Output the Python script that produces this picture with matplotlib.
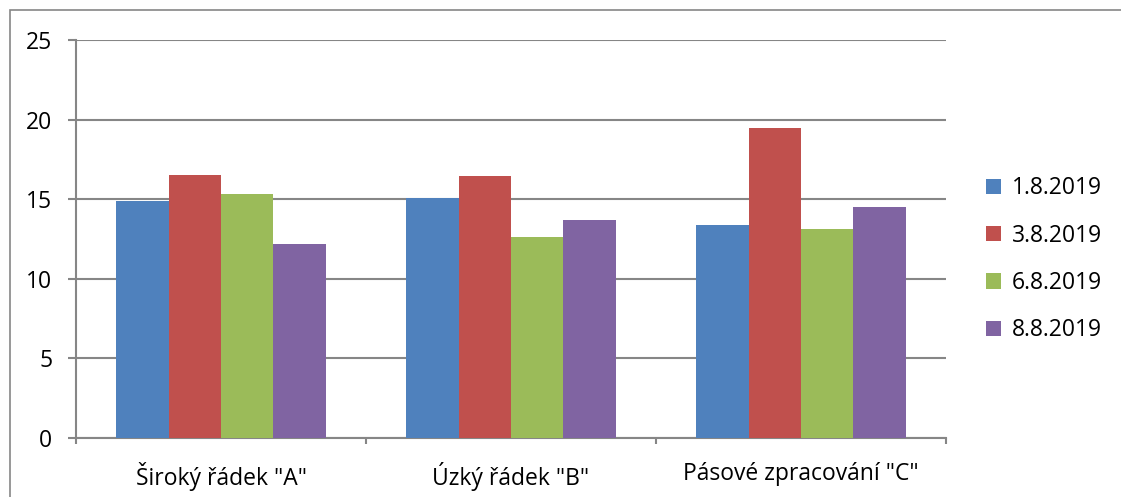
import matplotlib
matplotlib.use("Agg")
import matplotlib.pyplot as plt
import numpy as np
from matplotlib.patches import Rectangle

categories = ['Široký řádek "A"', 'Úzký řádek "B"', 'Pásové zpracování "C"']
series_names = ["1.8.2019", "3.8.2019", "6.8.2019", "8.8.2019"]
s1 = [14.9, 15.1, 13.4]
s2 = [16.5, 16.45, 19.45]
s3 = [15.3, 12.6, 13.1]
s4 = [12.2, 13.7, 14.5]
yticks = [0, 5, 10, 15, 20, 25]

colors = ["#4F81BD", "#C0504D", "#9BBB59", "#8064A2"]
grid_col = "#868686"
font = "Open Sans"
fs = 16.5

W, H = 1121, 497
fig = plt.figure(figsize=(W / 100, H / 100), dpi=100)
ax = fig.add_axes([76 / W, 1 - 438 / H, (946 - 76) / W, (438 - 40) / H])

x = np.arange(len(categories))
bw = 0.181
for i, (vals, name) in enumerate(zip([s1, s2, s3, s4], series_names)):
    ax.bar(x + (i - 1.5) * bw, vals, width=bw, color=colors[i], label=name,
           edgecolor="none", zorder=3)

ax.set_xlim(-0.5, 2.5)
ax.set_ylim(0, 25)
ax.set_yticks(yticks)
ax.set_yticklabels([str(v) for v in yticks], fontfamily=font, fontsize=fs)
ax.yaxis.grid(True, color=grid_col, linewidth=1.5, zorder=0)
ax.set_axisbelow(True)

ax.set_xticks([-0.5, 0.5, 1.5, 2.5])
ax.set_xticklabels([])
ax.set_xticks(x, minor=True)
ax.set_xticklabels(categories, minor=True, fontfamily=font, fontsize=fs)
ax.tick_params(axis="x", which="major", length=4.5, width=1.5, color=grid_col, direction="out")
ax.tick_params(axis="x", which="minor", length=0, pad=17)
ax.tick_params(axis="y", length=6, width=1.5, color=grid_col, direction="out", pad=11)

for s in ["top", "right"]:
    ax.spines[s].set_visible(False)
for s in ["left", "bottom"]:
    ax.spines[s].set_color(grid_col)
    ax.spines[s].set_linewidth(1.5)

leg = fig.legend(loc="upper left", bbox_to_anchor=(968 / W, 1 - 158 / H),
                 frameon=False, prop={"family": font, "size": fs},
                 handlelength=0.65, handleheight=0.65, handletextpad=0.45,
                 labelspacing=1.02, borderpad=0.3)

# outer chart frame (partly cropped)
fig.patches.append(Rectangle((10 / W, -0.1), 1.2, 1 - 10 / H + 0.1, transform=fig.transFigure,
                             fill=False, edgecolor=grid_col, linewidth=1.2))

fig.savefig("out.png", dpi=100)
